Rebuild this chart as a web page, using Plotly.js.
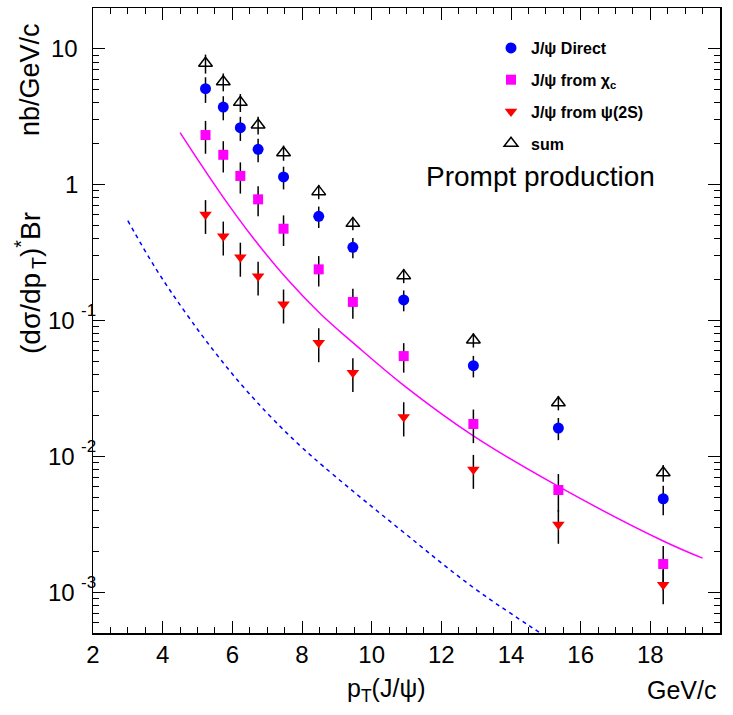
<!DOCTYPE html>
<html>
<head>
<meta charset="utf-8">
<script src="https://cdn.plot.ly/plotly-3.0.1.min.js"></script>
<style>html,body{margin:0;padding:0;background:#fff;}#chart{width:733px;height:715px;}</style>
</head>
<body>
<div id="chart"></div>
<script>
// ---- data ----
const ptBins = [5.23, 5.74, 6.23, 6.74, 7.47, 8.48, 9.46, 10.92, 12.92, 15.36, 18.37];
const jpsiDirect = [5.09, 3.73, 2.63, 1.82, 1.14, 0.585, 0.346, 0.1416, 0.0465, 0.01615, 0.00487];
const jpsiDirectErr = [1.09, 0.75, 0.53, 0.355, 0.217, 0.105, 0.059, 0.0248, 0.0084, 0.0030, 0.00119];
const jpsiChic = [2.32, 1.66, 1.16, 0.780, 0.474, 0.238, 0.137, 0.0547, 0.0173, 0.00565, 0.00161];
const jpsiChicErr = [0.63, 0.43, 0.30, 0.195, 0.12, 0.06, 0.034, 0.0134, 0.0048, 0.00175, 0.00058];
const jpsiPsi2S = [0.602, 0.418, 0.292, 0.212, 0.132, 0.0685, 0.0412, 0.0195, 0.0080, 0.00315, 0.001135];
const jpsiPsi2SErr = [0.168, 0.117, 0.082, 0.059, 0.037, 0.0192, 0.0115, 0.0055, 0.00224, 0.00088, 0.00032];
const jpsiSum = [7.83, 5.73, 4.04, 2.75, 1.72, 0.889, 0.519, 0.214, 0.0718, 0.0248, 0.00757];
const jpsiSumErr = [1.25, 0.86, 0.61, 0.41, 0.22, 0.107, 0.057, 0.0257, 0.0086, 0.0030, 0.00106];

const chicCurveX = [4.5, 5.65, 6.6, 7.56, 8.52, 9.47, 10.92, 12.92, 15.36, 18.37, 19.5];
const chicCurveY = [2.415, 0.871, 0.4046, 0.2037, 0.1127, 0.0684, 0.0333, 0.01413, 0.0060, 0.002377, 0.001778];
const dashCurveX = [3.0, 3.83, 4.74, 5.54, 6.34, 7.14, 7.94, 8.9, 10.81, 12.92, 14.55, 15.0];
const dashCurveY = [0.543, 0.235, 0.1066, 0.0566, 0.0319, 0.0191, 0.0120, 0.00731, 0.0029, 0.00108, 0.00056, 0.00047];

const xTickVals = [2, 4, 6, 8, 10, 12, 14, 16, 18, 20];
const yTickVals = [0.001, 0.01, 0.1, 1, 10];
const yTickBase = ['10', '10', '10', '1', '10'];
const yTickExp = ['-3', '-2', '-1', '', ''];

const legendNames = ['<b>J/ψ Direct</b>', '<b>J/ψ from χ<sub>c</sub></b>', '<b>J/ψ from ψ(2S)</b>', '<b>sum</b>'];

// ---- layout helpers ----
const FONT = 'Liberation Sans, Arial, Helvetica, sans-serif';
const W = 733, H = 715, L = 93, R = 13, T = 8, B = 82;
const PW = W - L - R, PH = H - T - B;
const px2x = p => (p - L) / PW;
const py2y = p => (H - B - p) / PH;

function errObj(arr) {
  return {type: 'data', array: arr, visible: true, color: '#000', thickness: 1.5, width: 0};
}

const traces = [
  {x: chicCurveX, y: chicCurveY, mode: 'lines', line: {color: '#ff00ff', width: 1.5, shape: 'spline', smoothing: 1.1}, showlegend: false, hoverinfo: 'skip'},
  {x: dashCurveX, y: dashCurveY, mode: 'lines', line: {color: '#0000ff', width: 1.5, dash: '4px,4px', shape: 'spline', smoothing: 1.1}, showlegend: false, hoverinfo: 'skip'},
  {x: ptBins, y: jpsiDirect, error_y: errObj(jpsiDirectErr), mode: 'markers', name: legendNames[0], legendgroup: 'a',
   marker: {symbol: 'circle', size: 11, color: '#0000ff'}},
  {x: ptBins, y: jpsiChic, error_y: errObj(jpsiChicErr), mode: 'markers', name: legendNames[1], legendgroup: 'b',
   marker: {symbol: 'square', size: 10, color: '#ff00ff'}},
  {x: ptBins, y: jpsiPsi2S, error_y: errObj(jpsiPsi2SErr), mode: 'markers', name: legendNames[2], legendgroup: 'c',
   marker: {symbol: 'triangle-down', size: 11, color: '#ff0000'}},
  {x: ptBins, y: jpsiSum, error_y: errObj(jpsiSumErr), mode: 'markers', name: legendNames[3], legendgroup: 'd',
   marker: {symbol: 'triangle-up-open', size: 12, color: '#000', line: {color: '#000', width: 1.5}}}
];

const yMinor = [];
for (let e = -4; e <= 1; e++) for (let d = 2; d <= 9; d++) yMinor.push(d * Math.pow(10, e));

const annotations = [];
yTickVals.forEach((v, i) => {
  if (yTickExp[i]) {
    annotations.push({xref: 'paper', yref: 'y', x: 0, y: Math.log10(v), xanchor: 'right', yanchor: 'middle',
      xshift: -16, text: yTickBase[i], showarrow: false, font: {family: FONT, size: 24, color: '#000'}});
    annotations.push({xref: 'paper', yref: 'y', x: 0, y: Math.log10(v), xanchor: 'left', yanchor: 'middle',
      xshift: -14, yshift: 10, text: yTickExp[i], showarrow: false, font: {family: FONT, size: 17, color: '#000'}});
  } else {
    annotations.push({xref: 'paper', yref: 'y', x: 0, y: Math.log10(v), xanchor: 'right', yanchor: 'middle',
      xshift: -13, text: yTickBase[i], showarrow: false, font: {family: FONT, size: 24, color: '#000'}});
  }
});
annotations.push(
  {xref: 'paper', yref: 'paper', x: px2x(30), y: py2y(283), textangle: -90, text: '(dσ/dp<sub>&#8201;T</sub>)<sup>*</sup>Br',
   showarrow: false, xanchor: 'center', yanchor: 'middle', font: {family: FONT, size: 28, color: '#000'}},
  {xref: 'paper', yref: 'paper', x: px2x(30), y: py2y(80), textangle: -90, text: 'nb/GeV/c',
   showarrow: false, xanchor: 'center', yanchor: 'middle', font: {family: FONT, size: 27, color: '#000'}},
  {xref: 'paper', yref: 'paper', x: px2x(386), y: py2y(690), text: 'p<sub>T</sub>(J/ψ)',
   showarrow: false, xanchor: 'center', yanchor: 'middle', font: {family: FONT, size: 25, color: '#000'}},
  {xref: 'paper', yref: 'paper', x: px2x(718), y: py2y(690), text: 'GeV/c',
   showarrow: false, xanchor: 'right', yanchor: 'middle', font: {family: FONT, size: 25, color: '#000'}},
  {xref: 'paper', yref: 'paper', x: px2x(424), y: py2y(176), text: 'Prompt production',
   showarrow: false, xanchor: 'left', yanchor: 'middle', font: {family: FONT, size: 28, color: '#000'}}
);

const layout = {
  width: W, height: H,
  margin: {l: L, r: R, t: T, b: B},
  paper_bgcolor: '#fff', plot_bgcolor: '#fff',
  font: {family: FONT, color: '#000'},
  showlegend: true,
  legend: {x: px2x(491), y: py2y(31), xanchor: 'left', yanchor: 'top', bgcolor: 'rgba(0,0,0,0)',
    font: {family: FONT, size: 16, color: '#000'}, tracegroupgap: 8, traceorder: 'grouped'},
  xaxis: {
    type: 'linear', range: [2, 20], showgrid: false, zeroline: false,
    showline: true, linecolor: '#000', linewidth: 1.5, mirror: 'ticks',
    tickmode: 'array', tickvals: xTickVals, ticktext: xTickVals.map(String),
    ticks: 'inside', ticklen: 12, tickwidth: 1, tickcolor: '#000',
    tickfont: {family: FONT, size: 24, color: '#000'},
    minor: {dtick: 0.5, tick0: 2, ticks: 'inside', ticklen: 6, tickwidth: 1, tickcolor: '#000', showgrid: false}
  },
  yaxis: {
    type: 'log', range: [Math.log10(5e-4), Math.log10(20)], showgrid: false, zeroline: false,
    showline: true, linecolor: '#000', linewidth: 1.5, mirror: 'ticks',
    tickmode: 'array', tickvals: yTickVals, showticklabels: false,
    ticks: 'inside', ticklen: 12, tickwidth: 1, tickcolor: '#000',
    minor: {tickmode: 'array', tickvals: yMinor, ticks: 'inside', ticklen: 6, tickwidth: 1, tickcolor: '#000', showgrid: false}
  },
  annotations: annotations
};

Plotly.newPlot('chart', traces, layout, {staticPlot: true, displayModeBar: false});
</script>
</body>
</html>
